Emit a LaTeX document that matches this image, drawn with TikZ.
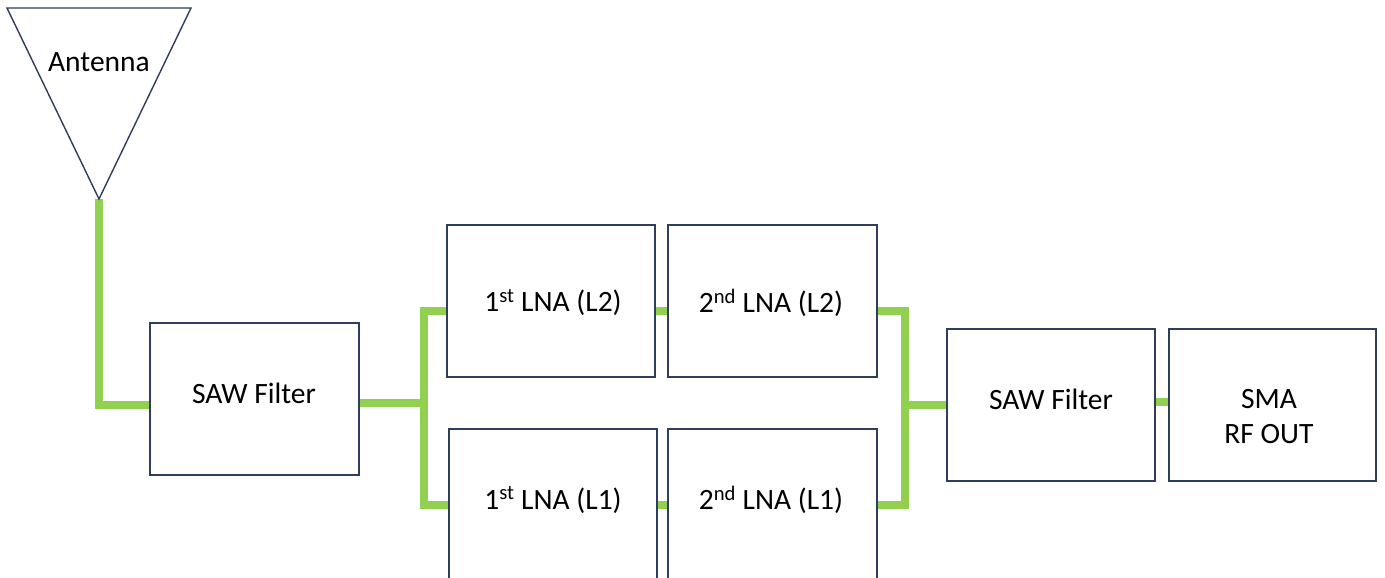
\documentclass[tikz,border=0pt]{standalone}
\usepackage{fontspec}
\setmainfont{Carlito}
\usetikzlibrary{calc}
\definecolor{wirecol}{RGB}{146,208,80}
\definecolor{edgecol}{RGB}{47,62,92}
\tikzset{
  blk/.style={draw=edgecol, line width=1.4pt, fill=white, minimum width=208pt, minimum height=152pt, inner sep=0pt},
  lbl/.style={font=\fontsize{29.5}{35}\selectfont, align=center, inner sep=0pt},
  wire/.style={draw=wirecol, line width=8pt, line join=miter},
}
\begin{document}
\begin{tikzpicture}[x=1pt,y=-1pt]
\clip (0,0) rectangle (1385,578);
\fill[white] (0,0) rectangle (1385,578);
% antenna
\coordinate (antTL) at (7,8);
\coordinate (antTR) at (191,8);
\coordinate (apex) at (99,199);
% junctions
\coordinate (jL) at (424,403);
\coordinate (jR) at (905,405);
% boxes
\node[blk, minimum width=209pt] (saw1) at (254.5,399) {};
\node[blk] (l2a) at (551,301) {};
\node[blk, minimum width=209pt] (l2b) at (772.5,301) {};
\node[blk] (l1a) at (553,505) {};
\node[blk, minimum width=209pt] (l1b) at (772.5,505) {};
\node[blk] (saw2) at (1051,405) {};
\node[blk, minimum width=207pt] (sma) at (1272.5,405) {};
% wires
\draw[wire] (apex) |- ($(saw1.west)+(0,6)$);
\draw[wire] ($(saw1.east)+(0,4)$) -- (jL);
\draw[wire] ($(l2a.west)+(0,10)$) -| (jL) |- (l1a.west);
\draw[wire] ($(l2a.east)+(0,10)$) -- ($(l2b.west)+(0,10)$);
\draw[wire] (l1a.east) -- (l1b.west);
\draw[wire] ($(l2b.east)+(0,10)$) -| (jR) |- (l1b.east);
\draw[wire] (jR) -- (saw2.west);
\draw[wire] ($(saw2.east)+(0,-3)$) -- ($(sma.west)+(0,-3)$);
% box outlines over wire ends
\foreach \n in {saw1,l2a,l2b,l1a,l1b,saw2,sma}{
  \draw[edgecol, line width=1.4pt] (\n.north west) rectangle (\n.south east);
}
\draw[edgecol, line width=1.4pt, fill=white, line join=miter] (antTL) -- (antTR) -- (apex) -- cycle;
% labels
\node[lbl] (antlbl) at (99,62) {Antenna};
\node[lbl] (saw1lb) at (254,393) {SAW Filter};
\node[lbl] (l2alb) at (553,303) {1\textsuperscript{st} LNA (L2)};
\node[lbl] (l2blb) at (771,303) {2\textsuperscript{nd} LNA (L2)};
\node[lbl] (l1alb) at (553,500) {1\textsuperscript{st} LNA (L1)};
\node[lbl] (l1blb) at (771,500) {2\textsuperscript{nd} LNA (L1)};
\node[lbl] (saw2lb) at (1051,399) {SAW Filter};
\node[lbl] (smalb) at (1269,417) {SMA\\RF OUT};
\end{tikzpicture}
\end{document}
